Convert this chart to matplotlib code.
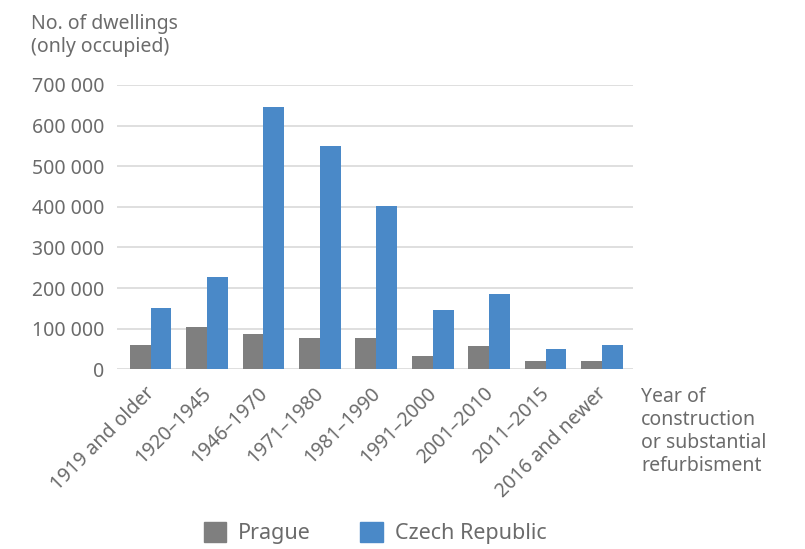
import matplotlib
matplotlib.use("Agg")
import matplotlib.pyplot as plt
import numpy as np
from matplotlib.ticker import FuncFormatter
from matplotlib.patches import Patch
from matplotlib.transforms import ScaledTranslation

plt.rcParams['font.family'] = ['Noto Sans', 'DejaVu Sans']

categories = ["1919 and older", "1920–1945", "1946–1970", "1971–1980", "1981–1990",
              "1991–2000", "2001–2010", "2011–2015", "2016 and newer"]
prague = [60000, 103000, 88000, 78000, 78000, 33000, 58000, 21000, 21000]
czech = [152000, 227000, 646000, 549000, 402000, 145000, 185000, 50000, 60000]
series_names = ["Prague", "Czech Republic"]

TEXT = '#6b6b6b'
GRAY = '#7f7f7f'
BLUE = '#4a89c8'

W, H = 805, 549
fig = plt.figure(figsize=(W / 100, H / 100), dpi=100)
ax = fig.add_axes([116.7 / W, 1 - 369.3 / H, (633 - 116.7) / W, (369.3 - 85) / H])

x = np.arange(len(categories))
bw = 0.37
ax.bar(x - bw / 2, prague, bw, color=GRAY, zorder=3)
ax.bar(x + bw / 2, czech, bw, color=BLUE, zorder=3)

ax.set_xlim(-0.6, 8.55)
ax.set_ylim(0, 700000)
ax.set_yticks(np.arange(0, 700001, 100000))
ax.yaxis.set_major_formatter(FuncFormatter(lambda v, p: f"{int(v):,}".replace(",", " ")))
ax.grid(axis='y', color='#d9d9d9', linewidth=1.2, zorder=0)
for s in ax.spines.values():
    s.set_visible(False)
ax.tick_params(axis='y', length=0, pad=9, labelsize=14, labelcolor=TEXT)
ax.tick_params(axis='x', length=0, pad=10, labelsize=14, labelcolor=TEXT)
ax.set_xticks(x)
ax.set_xticklabels(categories, rotation=45, ha='right', rotation_mode='anchor')
shift = ScaledTranslation(-6 / 100, 0, fig.dpi_scale_trans)
for lab in ax.get_xticklabels():
    lab.set_transform(lab.get_transform() + shift)

fig.text(31 / W, 1 - 14 / H, "No. of dwellings\n(only occupied)", ha='left', va='top',
         fontsize=14, color=TEXT, linespacing=1.2)
fig.text(641 / W, 1 - 387 / H, "Year of\nconstruction\nor substantial\nrefurbisment", ha='left', va='top',
         fontsize=14, color=TEXT, linespacing=1.2)

handles = [Patch(color=GRAY), Patch(color=BLUE)]
fig.legend(handles, series_names, loc='center', bbox_to_anchor=(375 / W, 1 - 533 / H), ncol=2,
           frameon=False, fontsize=15.5, labelcolor=TEXT, handlelength=1.05, handleheight=1.05,
           columnspacing=2.3, handletextpad=0.55)

fig.savefig("out.png", dpi=100)
